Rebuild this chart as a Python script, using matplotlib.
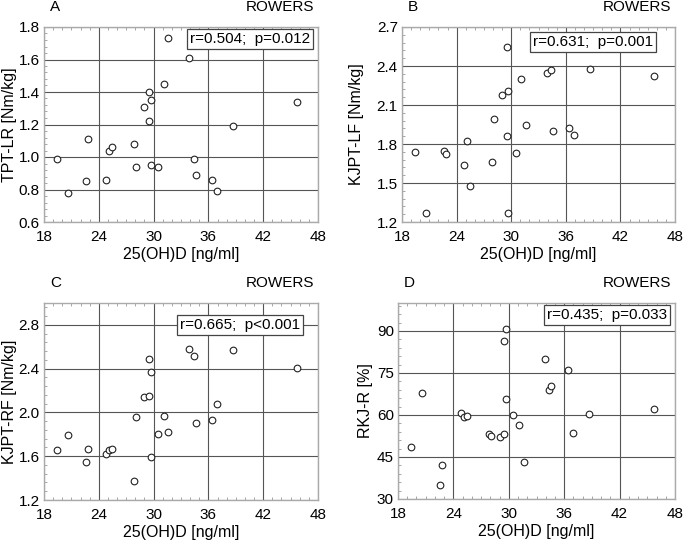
import matplotlib.pyplot as plt
from matplotlib.ticker import MultipleLocator, AutoMinorLocator

# 25(OH)D values read per panel
xA = [19.4, 20.6, 22.6, 22.8, 24.8, 25.1, 25.5, 27.9, 28.1, 29.0, 29.5, 29.5,
      29.7, 29.7, 30.5, 31.1, 31.6, 33.9, 34.4, 34.6, 36.4, 36.9, 38.7, 45.7]
yA = [0.99, 0.78, 0.85, 1.11, 0.86, 1.04, 1.06, 1.08, 0.94, 1.31, 1.40, 1.22,
      1.35, 0.95, 0.94, 1.45, 1.73, 1.61, 0.99, 0.89, 0.86, 0.79, 1.19, 1.34]

xB = [19.4, 20.6, 22.6, 22.8, 24.8, 25.1, 25.5, 27.9, 28.1, 29.0, 29.5, 29.5,
      29.7, 29.7, 30.5, 31.1, 31.6, 33.9, 34.4, 34.6, 36.4, 36.9, 38.7, 45.7]
yB = [1.74, 1.27, 1.75, 1.72, 1.64, 1.82, 1.48, 1.66, 1.99, 2.18, 2.55, 1.86,
      2.21, 1.27, 1.73, 2.30, 1.95, 2.35, 2.37, 1.90, 1.92, 1.87, 2.38, 2.32]

xC = [19.4, 20.6, 22.6, 22.8, 24.8, 25.1, 25.5, 27.9, 28.1, 29.0, 29.5, 29.5,
      29.7, 29.7, 30.5, 31.1, 31.6, 33.9, 34.4, 34.6, 36.4, 36.9, 38.7, 45.7]
yC = [1.66, 1.79, 1.55, 1.67, 1.62, 1.66, 1.67, 1.37, 1.96, 2.14, 2.49, 2.15,
      2.37, 1.59, 1.80, 1.97, 1.82, 2.58, 2.52, 1.90, 1.93, 2.08, 2.57, 2.41]

xD = [19.4, 20.6, 22.6, 22.8, 24.8, 25.1, 25.5, 27.9, 28.1, 29.0, 29.5, 29.5,
      29.7, 29.7, 30.5, 31.1, 31.6, 33.9, 34.4, 34.6, 36.4, 36.9, 38.7, 45.7]
yD = [48.5, 68.0, 35.1, 42.0, 60.7, 59.2, 59.5, 53.1, 52.6, 52.1, 86.4, 53.1,
      90.6, 65.7, 60.0, 56.5, 43.2, 79.9, 68.9, 70.5, 76.2, 53.6, 60.5, 62.0]

panels = [
    dict(x=xA, y=yA, letter='A', ylabel='TPT-LR [Nm/kg]', ylim=(0.6, 1.8),
         yticks=[0.6, 0.8, 1.0, 1.2, 1.4, 1.6, 1.8], yfmt='{:.1f}', ylx=-0.100,
         stat='r=0.504;  p=0.012', rect=[44, 27, 318, 222], box=(0.971, 0.974)),
    dict(x=xB, y=yB, letter='B', ylabel='KJPT-LF [Nm/kg]', ylim=(1.2, 2.7),
         yticks=[1.2, 1.5, 1.8, 2.1, 2.4, 2.7], yfmt='{:.1f}', ylx=-0.140,
         stat='r=0.631;  p=0.001', rect=[402, 27, 675, 222], box=(0.919, 0.959)),
    dict(x=xC, y=yC, letter='C', ylabel='KJPT-RF [Nm/kg]', ylim=(1.2, 3.0),
         yticks=[1.2, 1.6, 2.0, 2.4, 2.8], yfmt='{:.1f}', ylx=-0.100,
         stat='r=0.665;  p<0.001', rect=[44, 303, 318, 500], box=(0.934, 0.924)),
    dict(x=xD, y=yD, letter='D', ylabel='RKJ-R [%]', ylim=(30, 100),
         yticks=[30, 45, 60, 75, 90], yfmt='{:.0f}', ylx=-0.090,
         stat='r=0.435;  p=0.033', rect=[398, 303, 675, 499], box=(0.971, 0.974)),
]

W, H = 685, 543
fig = plt.figure(figsize=(W / 100, H / 100), dpi=100)
plt.rcParams['font.family'] = ['Liberation Sans', 'DejaVu Sans']

for p in panels:
    l, t, r, b = p['rect']
    ax = fig.add_axes([l / W, 1 - b / H, (r - l) / W, (b - t) / H])
    ax.plot(p['x'], p['y'], 'o', mfc='white', mec='#222222', ms=4.8, mew=0.8, zorder=3)
    ax.set_xlim(18, 48)
    ax.set_ylim(*p['ylim'])
    ax.xaxis.set_major_locator(MultipleLocator(6))
    ax.xaxis.set_minor_locator(AutoMinorLocator(6))
    ax.set_yticks(p['yticks'])
    ax.set_yticklabels([p['yfmt'].format(v) for v in p['yticks']])
    ax.yaxis.set_minor_locator(AutoMinorLocator(5))
    ax.grid(True, which='major', color='#555555', lw=0.8)
    ax.set_axisbelow(True)
    for s in ax.spines.values():
        s.set_color('#aaaaaa')
        s.set_linewidth(1.0)
    ax.tick_params(which='both', direction='in', top=True, right=False,
                   color='#999999', labelsize=11)
    ax.tick_params(which='major', length=0)
    ax.tick_params(which='minor', length=2.5, width=0.6)
    ax.tick_params(axis='x', pad=6)
    ax.tick_params(axis='y', pad=3)
    ax.set_xlabel('25(OH)D [ng/ml]', fontsize=11.5, labelpad=2)
    ax.set_ylabel(p['ylabel'], fontsize=11.5)
    ax.yaxis.set_label_coords(p['ylx'], 0.5)
    ax.text(p['box'][0], p['box'][1], p['stat'], transform=ax.transAxes,
            ha='right', va='top', fontsize=11, zorder=5,
            bbox=dict(boxstyle='square,pad=0.2', fc='white', ec='#444444', lw=0.9))
    fig.text((l + 6) / W, 1 - (t - 20) / H, p['letter'], fontsize=11, ha='left', va='center')
    fig.text((r - 4) / W, 1 - (t - 20) / H, 'ROWERS', fontsize=11, ha='right', va='center')

fig.savefig('out.png', dpi=100)
